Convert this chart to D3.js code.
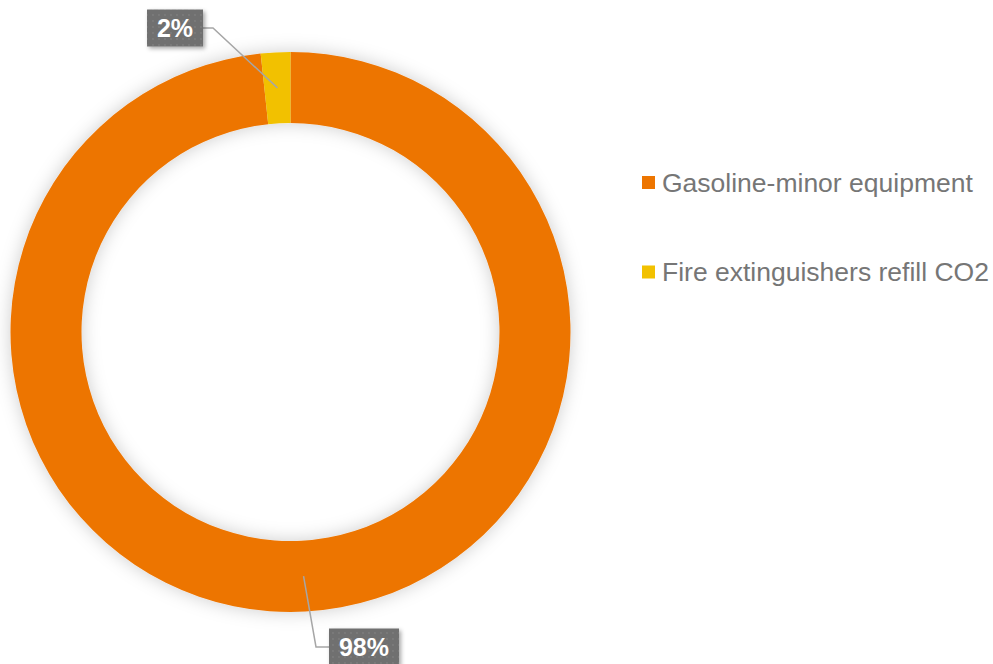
<!DOCTYPE html>
<html>
<head>
<meta charset="utf-8">
<script src="https://cdn.jsdelivr.net/npm/d3@7/dist/d3.min.js"></script>
<style>
  body { margin: 0; background: #fff; }
  svg { display: block; font-family: "Liberation Sans", Arial, sans-serif; }
</style>
</head>
<body>
<script>
const categories = ['Gasoline-minor equipment', 'Fire extinguishers refill CO2']
const shares = [98.3, 1.7]
const pctLabels = ['98%', '2%']
const colors = ['#ED7500', '#F2C100']

const width = 993
const height = 664
const cx = 290.5
const cy = 332
const outerR = 280
const innerR = 209

const svg = d3.select('body').append('svg')
  .attr('width', width)
  .attr('height', height)

const defs = svg.append('defs')

const shadow = defs.append('filter')
  .attr('id', 'ringShadow')
  .attr('x', '-20%').attr('y', '-20%')
  .attr('width', '140%').attr('height', '140%')
shadow.append('feDropShadow')
  .attr('dx', 0).attr('dy', 0)
  .attr('stdDeviation', 9)
  .attr('flood-color', '#000')
  .attr('flood-opacity', 0.2)

const boxShadow = defs.append('filter')
  .attr('id', 'boxShadow')
  .attr('x', '-30%').attr('y', '-30%')
  .attr('width', '160%').attr('height', '160%')
boxShadow.append('feDropShadow')
  .attr('dx', 2).attr('dy', 2)
  .attr('stdDeviation', 2)
  .attr('flood-color', '#000')
  .attr('flood-opacity', 0.35)

const dots = defs.append('pattern')
  .attr('id', 'dots')
  .attr('width', 6).attr('height', 6)
  .attr('patternUnits', 'userSpaceOnUse')
dots.append('rect').attr('width', 6).attr('height', 6).attr('fill', '#707070')
dots.append('circle').attr('cx', 3).attr('cy', 3).attr('r', 0.9).attr('fill', '#7e7e7e')

const data = categories.map((c, i) => ({ name: c, value: shares[i], label: pctLabels[i], color: colors[i] }))

const pie = d3.pie().value(d => d.value).sort(null)
const arc = d3.arc().innerRadius(innerR).outerRadius(outerR)
const midArc = d3.arc().innerRadius((innerR + outerR) / 2).outerRadius((innerR + outerR) / 2)

const arcs = pie(data)

const g = svg.append('g').attr('transform', `translate(${cx},${cy})`)

g.append('g')
  .attr('filter', 'url(#ringShadow)')
  .selectAll('path')
  .data(arcs)
  .join('path')
  .attr('d', arc)
  .attr('fill', d => d.data.color)

// data labels with leader lines
const labelPos = [
  { x: 364, y: 647, w: 70, side: 'left' },   // 98%
  { x: 175, y: 28, w: 56, side: 'right' }     // 2%
]

arcs.forEach((a, i) => {
  const c = midArc.centroid(a)
  const p = labelPos[i]
  const sx = cx + c[0]
  const sy = cy + c[1]
  const edgeX = p.side === 'left' ? p.x - p.w / 2 : p.x + p.w / 2
  const elbowX = p.side === 'left' ? edgeX - 13 : edgeX + 10
  svg.append('polyline')
    .attr('points', `${sx},${sy} ${elbowX},${p.y} ${edgeX},${p.y}`)
    .attr('fill', 'none')
    .attr('stroke', '#a6a6a6')
    .attr('stroke-width', 1.5)

  const lg = svg.append('g').attr('filter', 'url(#boxShadow)')
  lg.append('rect')
    .attr('x', p.x - p.w / 2)
    .attr('y', p.y - 18.5)
    .attr('width', p.w)
    .attr('height', 37)
    .attr('fill', 'url(#dots)')
  svg.append('text')
    .attr('x', p.x)
    .attr('y', p.y)
    .attr('dy', '0.36em')
    .attr('text-anchor', 'middle')
    .attr('fill', '#fff')
    .attr('font-weight', 'bold')
    .attr('font-size', 25)
    .text(a.data.label)
})

// legend
const legend = svg.append('g').attr('transform', 'translate(642,182.5)')
const item = legend.selectAll('g')
  .data(data)
  .join('g')
  .attr('transform', (d, i) => `translate(0,${i * 89.5})`)
item.append('rect')
  .attr('x', 0).attr('y', -6.5)
  .attr('width', 13).attr('height', 13)
  .attr('fill', d => d.color)
item.append('text')
  .attr('x', 20)
  .attr('dy', '0.35em')
  .attr('font-size', 26.5)
  .attr('fill', '#767676')
  .text(d => d.name)
</script>
</body>
</html>
